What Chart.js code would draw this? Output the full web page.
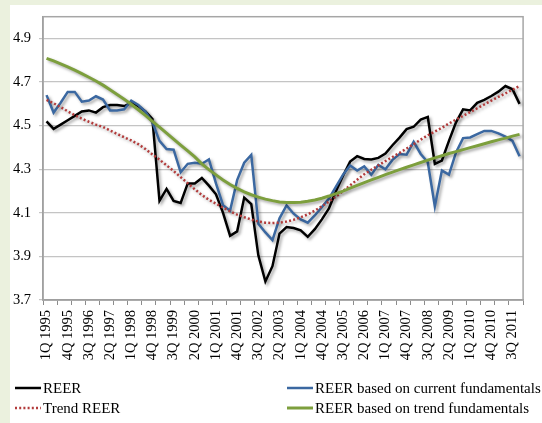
<!DOCTYPE html>
<html>
<head>
<meta charset="utf-8">
<script src="https://cdn.jsdelivr.net/npm/chart.js@4"></script>
<style>
  body { margin: 0; width: 542px; height: 423px; background: #ebf1de; position: relative; overflow: hidden;
         font-family: 'Liberation Serif', 'Times New Roman', serif; }
  #panel { position: absolute; left: 10px; top: 5px; right: 0; bottom: 0; background: #fff; }
  #wrap { position: absolute; left: 0; top: 0; width: 542px; height: 423px; }
  .lg { position: absolute; display: flex; align-items: center; height: 20px; font-size: 15px; color: #000; white-space: nowrap; }
  .lg svg { margin-right: 2px; }
</style>
</head>
<body>
<div id="panel"></div>
<div id="wrap"><canvas id="chart"></canvas></div>
<div id="legend"></div>
<script>
const quarters = [
  '1Q 1995', '2Q 1995', '3Q 1995', '4Q 1995', '1Q 1996', '2Q 1996', '3Q 1996', '4Q 1996',
  '1Q 1997', '2Q 1997', '3Q 1997', '4Q 1997', '1Q 1998', '2Q 1998', '3Q 1998', '4Q 1998',
  '1Q 1999', '2Q 1999', '3Q 1999', '4Q 1999', '1Q 2000', '2Q 2000', '3Q 2000', '4Q 2000',
  '1Q 2001', '2Q 2001', '3Q 2001', '4Q 2001', '1Q 2002', '2Q 2002', '3Q 2002', '4Q 2002',
  '1Q 2003', '2Q 2003', '3Q 2003', '4Q 2003', '1Q 2004', '2Q 2004', '3Q 2004', '4Q 2004',
  '1Q 2005', '2Q 2005', '3Q 2005', '4Q 2005', '1Q 2006', '2Q 2006', '3Q 2006', '4Q 2006',
  '1Q 2007', '2Q 2007', '3Q 2007', '4Q 2007', '1Q 2008', '2Q 2008', '3Q 2008', '4Q 2008',
  '1Q 2009', '2Q 2009', '3Q 2009', '4Q 2009', '1Q 2010', '2Q 2010', '3Q 2010', '4Q 2010',
  '1Q 2011', '2Q 2011', '3Q 2011', '4Q 2011'
];

const reer = [
  4.52, 4.485, 4.505, 4.525, 4.545, 4.565, 4.57, 4.56, 4.585, 4.595,
  4.595, 4.59, 4.605, 4.59, 4.565, 4.53, 4.155, 4.21, 4.155, 4.145,
  4.235, 4.235, 4.26, 4.225, 4.185, 4.10, 3.995, 4.015, 4.17, 4.14,
  3.905, 3.785, 3.855, 4.005, 4.035, 4.03, 4.02, 3.99, 4.025, 4.07,
  4.12, 4.20, 4.27, 4.335, 4.36, 4.347, 4.345, 4.352, 4.372, 4.41,
  4.445, 4.484, 4.495, 4.528, 4.54, 4.325, 4.34, 4.43, 4.515, 4.575,
  4.57, 4.605, 4.618, 4.636, 4.656, 4.682, 4.667, 4.60
];

const reerCurrent = [
  4.64, 4.56, 4.605, 4.655, 4.655, 4.61, 4.615, 4.635, 4.62, 4.57,
  4.57, 4.575, 4.615, 4.595, 4.565, 4.515, 4.43, 4.393, 4.39, 4.286,
  4.325, 4.33, 4.325, 4.345, 4.235, 4.135, 4.11, 4.25, 4.33, 4.366,
  4.05, 4.01, 3.975, 4.075, 4.134, 4.096, 4.07, 4.055, 4.088, 4.126,
  4.165, 4.22, 4.275, 4.317, 4.294, 4.313, 4.275, 4.32, 4.30, 4.343,
  4.37, 4.367, 4.426, 4.37, 4.332, 4.13, 4.294, 4.275, 4.377, 4.443,
  4.446, 4.461, 4.476, 4.476, 4.465, 4.45, 4.43, 4.36
];

const trendReer = [
  4.618, 4.603, 4.585, 4.566, 4.548, 4.532, 4.518, 4.505, 4.494, 4.478,
  4.462, 4.447, 4.432, 4.415, 4.393, 4.368, 4.344, 4.318, 4.292, 4.264,
  4.236, 4.208, 4.182, 4.16, 4.142, 4.124, 4.107, 4.092, 4.08, 4.069,
  4.06, 4.055, 4.053, 4.055, 4.06, 4.068, 4.08, 4.093, 4.11, 4.13,
  4.152, 4.175, 4.2, 4.226, 4.252, 4.277, 4.298, 4.318, 4.337, 4.356,
  4.375, 4.395, 4.415, 4.436, 4.456, 4.473, 4.49, 4.51, 4.528, 4.545,
  4.562, 4.58, 4.597, 4.615, 4.632, 4.648, 4.665, 4.682
];

const reerTrendFund = [
  4.809, 4.797, 4.784, 4.770, 4.755, 4.739, 4.722, 4.705, 4.686, 4.665,
  4.643, 4.621, 4.598, 4.573, 4.547, 4.520, 4.493, 4.466, 4.438, 4.411,
  4.384, 4.357, 4.325, 4.298, 4.274, 4.251, 4.230, 4.212, 4.196, 4.183,
  4.172, 4.163, 4.156, 4.150, 4.147, 4.147, 4.149, 4.153, 4.159, 4.167,
  4.177, 4.188, 4.200, 4.213, 4.226, 4.239, 4.251, 4.263, 4.275, 4.287,
  4.298, 4.309, 4.320, 4.331, 4.342, 4.352, 4.362, 4.372, 4.381, 4.390,
  4.399, 4.408, 4.417, 4.426, 4.435, 4.443, 4.452, 4.460
];

const yTicks = [3.7, 3.9, 4.1, 4.3, 4.5, 4.7, 4.9];

const FONT = { family: "'Liberation Serif', 'Times New Roman', serif", size: 14.5 };

// thin grey box round the plot area (top and right edges)
const frame = {
  id: 'frame',
  beforeDatasetsDraw(chart) {
    const { ctx, chartArea: a } = chart;
    ctx.save();
    ctx.strokeStyle = '#a6a6a6';
    ctx.lineWidth = 1.5;
    ctx.strokeRect(a.left, a.top, a.right - a.left, a.bottom - a.top);
    ctx.restore();
  }
};

// soft drop shadow under every line, like the Excel original
const shadow = {
  id: 'shadow',
  beforeDatasetDraw(chart) {
    const c = chart.ctx;
    c.save();
    c.shadowColor = 'rgba(0,0,0,0.35)';
    c.shadowBlur = 3;
    c.shadowOffsetX = 2;
    c.shadowOffsetY = 2;
  },
  afterDatasetDraw(chart) {
    chart.ctx.restore();
  }
};

const datasets = [
  { label: 'REER', data: reer, borderColor: '#000000', borderWidth: 2.5, order: 4 },
  { label: 'REER based on current fundamentals', data: reerCurrent, borderColor: '#3b68a1', borderWidth: 2.5, order: 3 },
  { label: 'Trend REER', data: trendReer, borderColor: '#b23b3b', borderWidth: 2.5, borderDash: [2, 2.2], order: 2 },
  { label: 'REER based on trend fundamentals', data: reerTrendFund, borderColor: '#7d9f3d', borderWidth: 3, order: 1 }
];

const chart = new Chart(document.getElementById('chart'), {
  type: 'line',
  data: { labels: quarters, datasets: datasets },
  options: {
    responsive: true,
    maintainAspectRatio: false,
    animation: false,
    layout: { padding: { top: 15, right: 6, left: 0, bottom: 0 } },
    elements: { point: { radius: 0 }, line: { tension: 0, fill: false } },
    plugins: { legend: { display: false }, tooltip: { enabled: false } },
    scales: {
      x: {
        offset: true,
        grid: {
          offset: true,
          drawOnChartArea: false,
          tickLength: 5,
          color: (c) => (c.index === undefined || c.index % 2 === 0) ? '#8c8c8c' : 'rgba(0,0,0,0)'
        },
        border: { color: '#8c8c8c', width: 1.5 },
        ticks: {
          autoSkip: false,
          minRotation: 90,
          maxRotation: 90,
          padding: 5,
          color: '#000',
          font: FONT,
          callback: (v, i) => (i % 3 === 0 ? quarters[i] : '')
        },
        afterFit: (s) => { s.height = 123; }
      },
      y: {
        min: 3.7,
        max: 5.0,
        afterBuildTicks: (s) => { s.ticks = yTicks.map((v) => ({ value: v })); },
        grid: { color: '#c4c4c4', lineWidth: 1.2, tickLength: 4 },
        border: { color: '#8c8c8c', width: 1.5 },
        ticks: {
          padding: 8,
          color: '#000',
          font: FONT,
          callback: (v) => Number(v).toFixed(1)
        },
        afterFit: (s) => { s.width = 43; }
      }
    }
  },
  plugins: [frame, shadow]
});

// legend laid out in two columns like the original
const legendSlots = [
  { x: 15, y: 388 },
  { x: 287, y: 388 },
  { x: 15, y: 408 },
  { x: 287, y: 408 }
];
const legendEl = document.getElementById('legend');
chart.data.datasets.forEach((ds, i) => {
  const slot = legendSlots[i];
  const item = document.createElement('div');
  item.className = 'lg';
  item.style.left = slot.x + 'px';
  item.style.top = (slot.y - 10) + 'px';
  const dash = ds.borderDash ? ' stroke-dasharray="2 2.2"' : '';
  item.innerHTML =
    '<svg width="26" height="6"><line x1="0" y1="3" x2="26" y2="3" stroke="' + ds.borderColor +
    '" stroke-width="' + ds.borderWidth + '"' + dash + '/></svg><span>' + ds.label + '</span>';
  legendEl.appendChild(item);
});
</script>
</body>
</html>
